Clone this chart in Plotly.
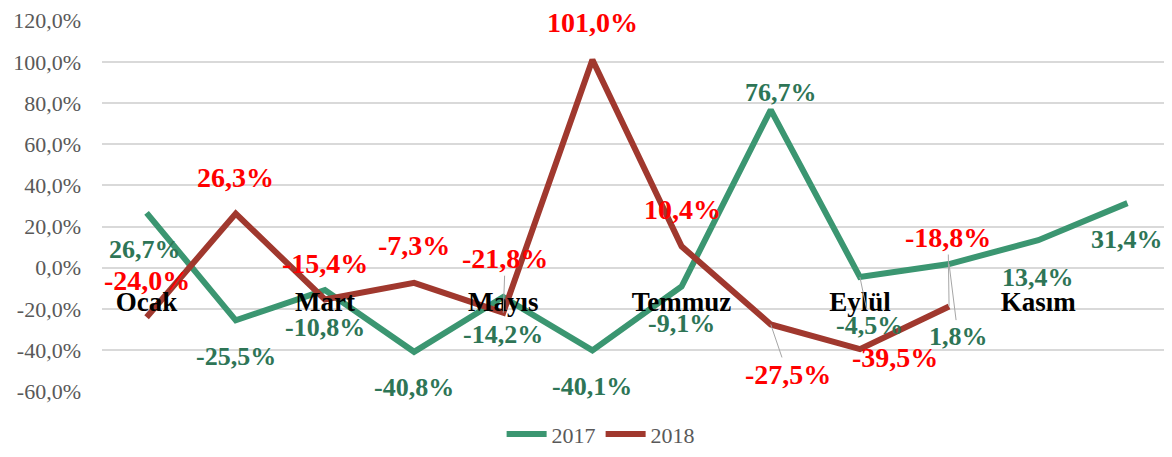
import plotly.graph_objects as go

months = ["Ocak", "Şubat", "Mart", "Nisan", "Mayıs", "Haziran",
          "Temmuz", "Ağustos", "Eylül", "Ekim", "Kasım", "Aralık"]
shown_months = ["Ocak", "Mart", "Mayıs", "Temmuz", "Eylül", "Kasım"]
vals_2017 = [26.7, -25.5, -10.8, -40.8, -14.2, -40.1, -9.1, 76.7, -4.5, 1.8, 13.4, 31.4]
vals_2018 = [-24.0, 26.3, -15.4, -7.3, -21.8, 101.0, 10.4, -27.5, -39.5, -18.8]
y_ticks = [-60, -40, -20, 0, 20, 40, 60, 80, 100, 120]

# label offsets in pixels (dx, dy) and whether Excel drew a leader line
off_2017 = [(-2, 37), (0, 36), (0, 37), (0, 36), (0, 37), (0, 36),
            (0, 37), (10, -17), (10, 48), (9, 72), (0, 37), (0, 36)]
lead_2017 = [False] * 8 + [True, True, False, False]
off_2018 = [(0, -37), (0, -36), (0, -36), (0, -37), (2, -54), (0, -37),
            (1, -37), (17, 50), (35, 8), (-1, -69)]
lead_2018 = [False, False, False, False, True, False, False, True, False, True]

GREEN = "#3B9671"
GREEN_TXT = "#2E7556"
RED = "#A0382E"
RED_TXT = "#FF0000"
FONT = "'Liberation Serif', serif"


def pct(v):
    return f"{v:.1f}".replace(".", ",") + "%"


fig = go.Figure()
fig.add_trace(go.Scatter(x=months, y=vals_2017, mode="lines", name="2017",
                         line=dict(color=GREEN, width=6)))
fig.add_trace(go.Scatter(x=months[:len(vals_2018)], y=vals_2018, mode="lines", name="2018",
                         line=dict(color=RED, width=6)))

annotations = []
for vals, offs, leads, col, size in [
    (vals_2017, off_2017, lead_2017, GREEN_TXT, 26),
    (vals_2018, off_2018, lead_2018, RED_TXT, 28),
]:
    for m, v, (dx, dy), lead in zip(months, vals, offs, leads):
        annotations.append(dict(
            x=m, y=v, text=f"<b>{pct(v)}</b>", showarrow=True,
            ax=dx, ay=dy, arrowhead=0, arrowwidth=1,
            arrowcolor="#A6A6A6" if lead else "rgba(0,0,0,0)",
            font=dict(family=FONT, size=size, color=col),
        ))

fig.update_layout(
    width=1164, height=449,
    paper_bgcolor="white", plot_bgcolor="white",
    margin=dict(l=94, r=0, t=9, b=65),
    font=dict(family=FONT, color="#595959"),
    showlegend=True,
    legend=dict(orientation="h", x=0.466, xanchor="center",
                y=-0.17, yanchor="bottom",
                font=dict(size=22, color="#595959"), itemwidth=40),
    xaxis=dict(
        type="category", range=[-0.5, 11.5], anchor="free", position=1 / 3,
        tickvals=shown_months, ticktext=[f"<b>{m}</b>" for m in shown_months],
        tickfont=dict(family=FONT, size=27, color="black"),
        ticks="outside", ticklen=10, tickcolor="rgba(0,0,0,0)",
        showgrid=False, showline=False, zeroline=False,
    ),
    yaxis=dict(
        range=[-60.3, 120.3], tickvals=y_ticks, ticktext=[pct(t) for t in y_ticks],
        tickfont=dict(family=FONT, size=22, color="#595959"),
        gridcolor="#D9D9D9", gridwidth=1.5, zeroline=False, showline=False,
        ticks="", ticklabelstandoff=20, ticklabeloverflow="allow",
    ),
    annotations=annotations,
)

fig.write_html("out.html")
